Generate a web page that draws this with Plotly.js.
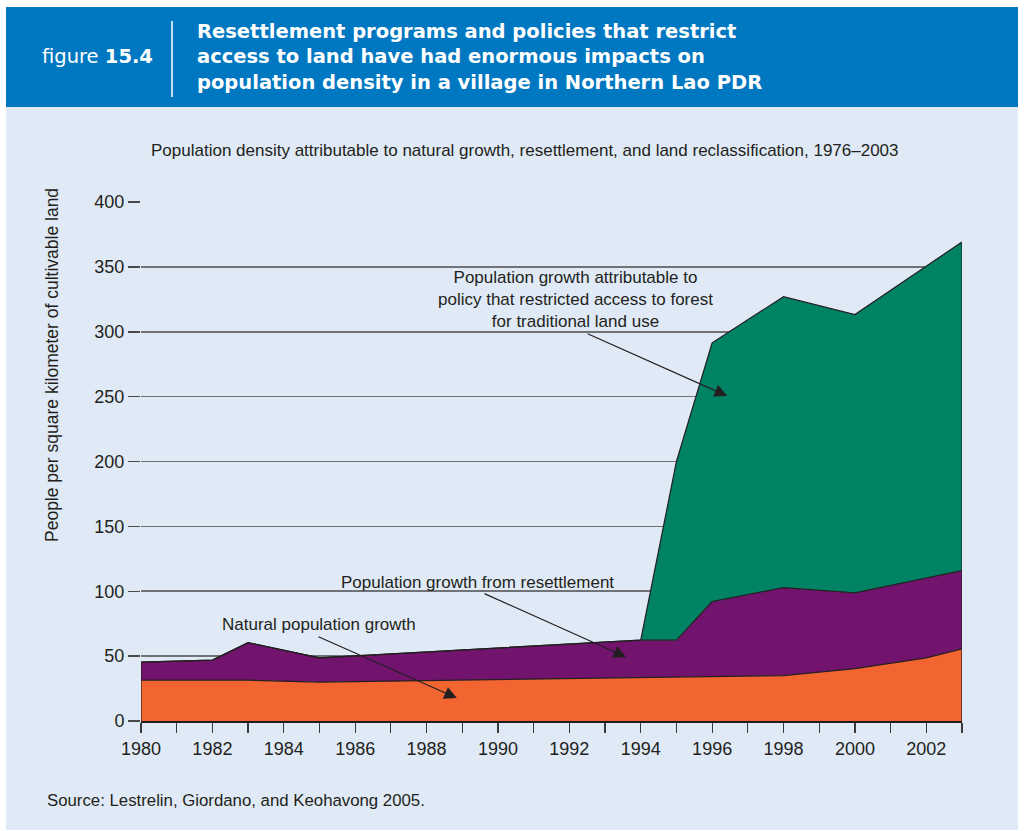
<!DOCTYPE html>
<html><head><meta charset="utf-8">
<script src="https://cdn.plot.ly/plotly-3.0.1.min.js"></script>
<style>html,body{margin:0;padding:0;background:#fff;}</style>
</head><body><div id="chart" style="width:1024px;height:831px;"></div>
<script>
// ---- data ----
const years = [1980, 1982, 1983, 1985, 1994, 1995, 1996, 1998, 2000, 2002, 2003];
const naturalGrowth = [31.5, 31.5, 31.5, 30, 33.5, 33.5, 34, 35, 40.3, 48.7, 55.6];
const resettlementGrowth = [13.8, 15.4, 28.9, 18.7, 28.8, 28.8, 58, 67.8, 58.4, 61.6, 60.3];
const policyGrowth = [0, 0, 0, 0, 0, 137.7, 199.5, 224.2, 214.6, 240.2, 253.3];

const xTickVals = [1980,1981,1982,1983,1984,1985,1986,1987,1988,1989,1990,1991,1992,1993,1994,1995,1996,1997,1998,1999,2000,2001,2002,2003];
const xTickText = ['1980','','1982','','1984','','1986','','1988','','1990','','1992','','1994','','1996','','1998','','2000','','2002',''];
const yTickVals = [0, 50, 100, 150, 200, 250, 300, 350, 400];
const yTickText = ['0', '50', '100', '150', '200', '250', '300', '350', '400'];

// ---- layout helpers ----
const W = 1024, H = 831;
const M = {l: 141, r: 62, t: 202, b: 110};
const PW = W - M.l - M.r, PH = H - M.t - M.b;
const px = v => (v - M.l) / PW;
const py = v => (H - M.b - v) / PH;

const FONT = 'Liberation Sans, Arial, Helvetica, sans-serif';
const HFONT = 'DejaVu Sans, Liberation Sans, sans-serif';
const INK = '#231f20';
const lineStyle = {color: INK, width: 1.2};

const n = years.length;
const traces = [
  {x: years, y: naturalGrowth, type: 'scatter', mode: 'lines', stackgroup: 'one',
   fillcolor: '#f26531', line: lineStyle, hoverinfo: 'skip', name: 'Natural population growth'},
  {x: years, y: resettlementGrowth, type: 'scatter', mode: 'lines', stackgroup: 'one',
   fillcolor: '#72136d', line: lineStyle, hoverinfo: 'skip', name: 'Population growth from resettlement'},
  {x: years, y: policyGrowth, type: 'scatter', mode: 'lines', stackgroup: 'one',
   fillcolor: '#008265', line: lineStyle, hoverinfo: 'skip', name: 'Policy'},
  {x: [years[0], years[0], null, years[n-1], years[n-1]],
   y: [0, naturalGrowth[0] + resettlementGrowth[0] + policyGrowth[0], null, 0,
       naturalGrowth[n-1] + resettlementGrowth[n-1] + policyGrowth[n-1]],
   type: 'scatter', mode: 'lines', line: lineStyle, hoverinfo: 'skip', showlegend: false}
];

function arrow(tx, ty, hx, hy) {
  return {x: hx, y: hy, xref: 'x', yref: 'y', ax: tx, ay: ty, axref: 'x', ayref: 'y',
          text: '', showarrow: true, arrowhead: 2, arrowsize: 2.1, arrowwidth: 1.2,
          arrowcolor: INK, standoff: 0, startstandoff: 0};
}
function label(text, xp, yp, size, opts) {
  return Object.assign({text: text, x: px(xp), y: py(yp), xref: 'paper', yref: 'paper',
    showarrow: false, xanchor: 'center', yanchor: 'middle',
    font: {family: FONT, size: size, color: INK}}, opts || {});
}
const white = s => ({family: HFONT, size: s, color: '#ffffff'});

const annotations = [
  // header
  label('figure <b>15.4</b>', 40, 57, 19.5, {xanchor: 'left', font: white(19.5)}),
  label('<b>Resettlement programs and policies that restrict</b>', 195, 31, 19.5, {xanchor: 'left', font: white(19.5)}),
  label('<b>access to land have had enormous impacts on</b>', 195, 57, 19.5, {xanchor: 'left', font: white(19.5)}),
  label('<b>population density in a village in Northern Lao PDR</b>', 195, 83, 19.5, {xanchor: 'left', font: white(19.5)}),
  // subtitle
  label('Population density attributable to natural growth, resettlement, and land reclassification, 1976–2003', 525, 150, 17),
  // y title
  label('People per square kilometer of cultivable land', 52, 365, 17.5, {textangle: -90}),
  // source
  label('Source: Lestrelin, Giordano, and Keohavong 2005.', 45, 800, 16.8, {xanchor: 'left'}),
  // series labels
  label('Population growth attributable to<br>policy that restricted access to forest<br>for traditional land use', 575, 299, 17),
  label('Population growth from resettlement', 477, 582, 17),
  label('Natural population growth', 319, 624, 17),
  // arrows
  arrow(1992.47, 299.0, 1996.42, 250.5),
  arrow(1989.58, 98.7, 1993.59, 49.3),
  arrow(1984.93, 65.5, 1988.85, 17.7)
];

const shapes = [
  {type: 'rect', xref: 'paper', yref: 'paper', x0: px(6), x1: px(1018), y0: py(830), y1: py(107),
   fillcolor: '#e0eaf6', line: {width: 0}, layer: 'below'},
  {type: 'rect', xref: 'paper', yref: 'paper', x0: px(6), x1: px(1018), y0: py(107), y1: py(7),
   fillcolor: '#0078c1', line: {width: 0}, layer: 'below'},
  {type: 'line', xref: 'paper', yref: 'paper', x0: px(172), x1: px(172), y0: py(97), y1: py(21),
   line: {color: '#ffffff', width: 1.5}}
];

const layout = {
  width: W, height: H,
  margin: M,
  paper_bgcolor: '#ffffff',
  plot_bgcolor: 'rgba(0,0,0,0)',
  showlegend: false,
  font: {family: FONT, color: INK},
  xaxis: {
    range: [1980, 2003], tickmode: 'array', tickvals: xTickVals, ticktext: xTickText,
    ticks: 'outside', ticklen: 10, tickwidth: 1.2, tickcolor: '#3a3a3a',
    showgrid: false, zeroline: false, showline: true, linecolor: INK, linewidth: 2.2,
    tickfont: {family: FONT, size: 18, color: INK}, fixedrange: true
  },
  yaxis: {
    range: [0, 400], tickmode: 'array', tickvals: yTickVals, ticktext: yTickText,
    ticks: 'outside', ticklen: 12, tickwidth: 1.5, tickcolor: '#4a4a4a',
    showgrid: true, gridcolor: '#707275', gridwidth: 1.6, zeroline: false, showline: false,
    tickfont: {family: FONT, size: 18, color: INK}, fixedrange: true
  },
  annotations: annotations,
  shapes: shapes
};

Plotly.newPlot('chart', traces, layout, {displayModeBar: false, staticPlot: true});
</script>
</body></html>
